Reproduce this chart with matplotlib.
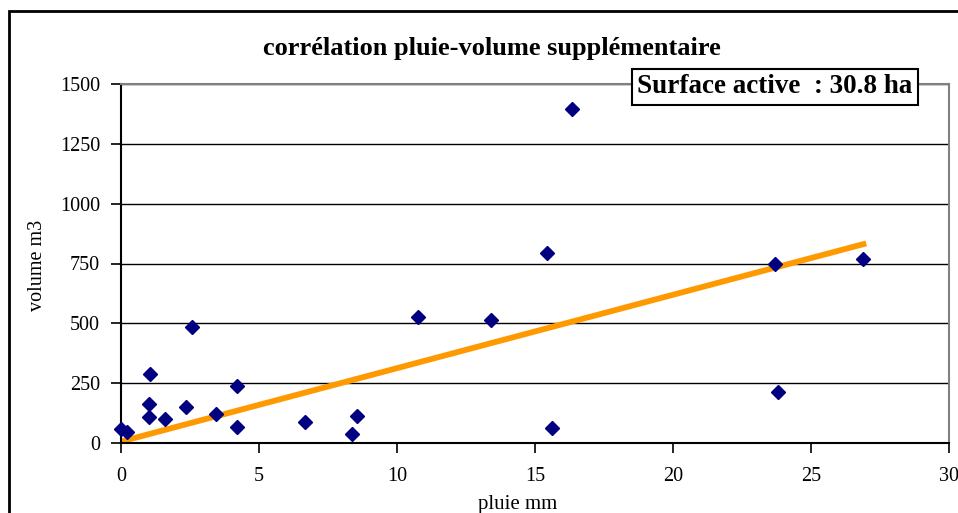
import matplotlib
matplotlib.use("Agg")
import matplotlib.pyplot as plt
from matplotlib.patches import Rectangle

# rainfall (mm) vs extra volume (m3)
pluie = [0.0, 0.2, 1.05, 1.0, 1.0, 1.6, 2.36, 2.57, 3.44, 4.19, 4.19, 6.67,
         8.36, 8.54, 10.76, 13.4, 15.43, 15.6, 16.34, 23.7, 23.8, 26.9]
volume = [57, 47, 290, 163, 110, 101, 149, 485, 122, 240, 66, 88,
          38, 113, 526, 514, 794, 63, 1396, 748, 213, 769]

# linear trend line end points
trend_x = [0, 27]
trend_y = [6, 834]

y_ticks = [0, 250, 500, 750, 1000, 1250, 1500]
x_ticks = [0, 5, 10, 15, 20, 25, 30]

plt.rcParams['font.family'] = ['Liberation Serif', 'DejaVu Serif']

W, H = 958, 513
fig = plt.figure(figsize=(W / 100, H / 100), dpi=100)
ax = fig.add_axes([121 / W, 1 - 443 / H, (949 - 121) / W, (443 - 84) / H])

for t in y_ticks[1:]:
    ax.axhline(t, color='black', lw=1, zorder=1)

ax.plot(trend_x, trend_y, color='#FF9900', lw=4.2, zorder=2, solid_capstyle='butt')
ax.plot(pluie, volume, 'D', color='#000080', markersize=6.8, zorder=3, clip_on=False)

ax.set_xlim(0, 30)
ax.set_ylim(0, 1500)
ax.set_xticks(x_ticks)
ax.set_yticks(y_ticks)
ax.tick_params(axis='both', direction='out', length=7, width=1.2, labelsize=14.5)
ax.tick_params(axis='x', pad=10)
ax.tick_params(axis='y', pad=8)

for side in ['left', 'bottom']:
    ax.spines[side].set_color('black')
    ax.spines[side].set_linewidth(1.5)
for side in ['top', 'right']:
    ax.spines[side].set_color('#808080')
    ax.spines[side].set_linewidth(1.5)

fig.text(518 / W, 1 - 505 / H, 'pluie mm', fontsize=15, ha='center', va='center')
fig.text(38 / W, 1 - 265 / H, 'volume m3', fontsize=14.5, rotation=90,
         ha='center', va='center')
fig.text(492 / W, 1 - 48 / H, 'corrélation pluie-volume supplémentaire',
         fontsize=19, fontweight='bold', ha='center', va='center')

fig.text(775 / W, 1 - 87 / H, 'Surface active  : 30.8 ha',
         ha='center', va='center', fontsize=19.5, fontweight='bold', zorder=5,
         bbox=dict(boxstyle='square,pad=0.2', facecolor='white',
                   edgecolor='black', lw=1.5))

# outer chart border (cut by the image edge on the right and bottom)
fig.patches.append(Rectangle((9 / W, -0.2), 2.0, 1.2 - 11 / H,
                             transform=fig.transFigure, fill=False,
                             edgecolor='black', lw=2))

fig.savefig('out.png', dpi=100)
